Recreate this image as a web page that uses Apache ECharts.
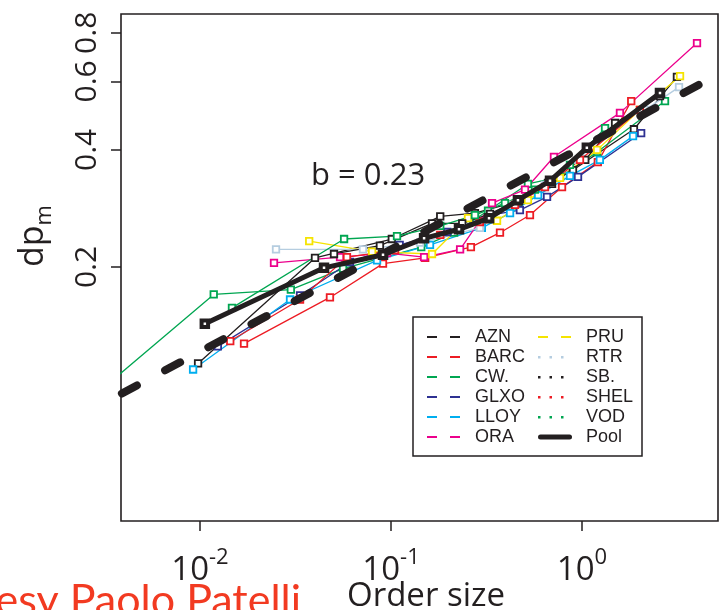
<!DOCTYPE html>
<html>
<head>
<meta charset="utf-8">
<script src="https://cdn.jsdelivr.net/npm/echarts@6/dist/echarts.min.js"></script>
<style>
  html, body { margin: 0; padding: 0; background: #fff; }
  #chart { width: 720px; height: 610px; }
</style>
</head>
<body>
<div id="chart"></div>
<script>
// Price impact dp_m versus normalised order size, per stock, with the pooled curve
// and the fitted power law.
const INK = '#231f20';

const AZN_x  = [0.00977, 0.0400, 0.101, 0.181, 0.275, 0.462, 0.664, 0.897, 1.87, 3.14];
const AZN_y  = [0.113, 0.211, 0.236, 0.270, 0.275, 0.295, 0.329, 0.355, 0.452, 0.616];
const BARC_x = [0.0170, 0.0479, 0.0908, 0.151, 0.262, 0.372, 0.534, 0.786, 1.21, 1.81];
const BARC_y = [0.127, 0.167, 0.204, 0.211, 0.225, 0.245, 0.272, 0.321, 0.372, 0.534];
const CW_x   = [0.00299, 0.0118, 0.0299, 0.0561, 0.144, 0.214, 0.322, 0.521, 0.767, 1.20, 2.72];
const CW_y   = [0.096, 0.170, 0.175, 0.198, 0.225, 0.245, 0.279, 0.327, 0.341, 0.395, 0.534];
const GLXO_x = [0.0124, 0.0334, 0.0610, 0.111, 0.197, 0.330, 0.473, 0.656, 0.953, 2.04];
const GLXO_y = [0.125, 0.169, 0.206, 0.228, 0.246, 0.272, 0.280, 0.303, 0.341, 0.442];
const LLOY_x = [0.0092, 0.0296, 0.0845, 0.160, 0.299, 0.420, 0.589, 0.865, 1.24, 1.85];
const LLOY_y = [0.109, 0.165, 0.208, 0.228, 0.252, 0.275, 0.306, 0.343, 0.377, 0.434];
const ORA_x  = [0.0244, 0.0541, 0.0953, 0.149, 0.230, 0.338, 0.503, 0.713, 1.58, 4.00];
const ORA_y  = [0.205, 0.212, 0.217, 0.212, 0.222, 0.292, 0.316, 0.384, 0.498, 0.753];
const PRU_x  = [0.0373, 0.0796, 0.164, 0.253, 0.359, 0.521, 0.767, 1.20, 2.01, 3.26];
const PRU_y  = [0.233, 0.219, 0.216, 0.267, 0.263, 0.297, 0.339, 0.400, 0.507, 0.619];
const RTR_x  = [0.0250, 0.0713, 0.142, 0.292, 0.420, 0.640, 0.953, 1.49, 2.14, 3.22];
const RTR_y  = [0.222, 0.222, 0.231, 0.252, 0.289, 0.325, 0.377, 0.469, 0.507, 0.580];
const SB_x   = [0.0503, 0.0875, 0.164, 0.236, 0.330, 0.473, 0.697, 1.04, 1.49, 2.56];
const SB_y   = [0.216, 0.227, 0.259, 0.259, 0.274, 0.299, 0.327, 0.377, 0.469, 0.550];
const SHEL_x = [0.0144, 0.0334, 0.0588, 0.105, 0.181, 0.292, 0.446, 0.640, 0.976, 2.01];
const SHEL_y = [0.129, 0.165, 0.212, 0.221, 0.242, 0.261, 0.289, 0.321, 0.377, 0.507];
const VOD_x  = [0.0147, 0.0568, 0.1075, 0.181, 0.275, 0.395, 0.567, 0.865, 1.32];
const VOD_y  = [0.157, 0.236, 0.240, 0.255, 0.272, 0.292, 0.316, 0.366, 0.455];

const POOL_x = [0.0106, 0.0446, 0.0908, 0.149, 0.227, 0.326, 0.462, 0.680, 1.06, 2.56];
const POOL_y = [0.143, 0.199, 0.215, 0.237, 0.250, 0.267, 0.297, 0.333, 0.405, 0.560];

// End points of the fitted power law dp_m ~ x^b
const FIT_x = [0.0039, 5.1];
const FIT_y = [0.0946, 0.623];
const FIT_LABEL = 'b = 0.23';

const X_TICKS = [0.01, 0.1, 1];
const Y_TICKS = [0.2, 0.4, 0.6, 0.8];

const stocks = [
  { name: 'AZN',  x: AZN_x,  y: AZN_y,  color: INK,       dash: 'dashed' },
  { name: 'BARC', x: BARC_x, y: BARC_y, color: '#ed1c24', dash: 'dashed' },
  { name: 'CW.',  x: CW_x,   y: CW_y,   color: '#00a651', dash: 'dashed' },
  { name: 'GLXO', x: GLXO_x, y: GLXO_y, color: '#2e3192', dash: 'dashed' },
  { name: 'LLOY', x: LLOY_x, y: LLOY_y, color: '#00aeef', dash: 'dashed' },
  { name: 'ORA',  x: ORA_x,  y: ORA_y,  color: '#ec008c', dash: 'dashed' },
  { name: 'PRU',  x: PRU_x,  y: PRU_y,  color: '#f5e400', dash: 'dashed' },
  { name: 'RTR',  x: RTR_x,  y: RTR_y,  color: '#b5cde0', dash: 'dotted' },
  { name: 'SB.',  x: SB_x,   y: SB_y,   color: INK,       dash: 'dotted' },
  { name: 'SHEL', x: SHEL_x, y: SHEL_y, color: '#ed1c24', dash: 'dotted' },
  { name: 'VOD',  x: VOD_x,  y: VOD_y,  color: '#00a651', dash: 'dotted' }
];

const pairs = (xs, ys) => xs.map((v, i) => [v, ys[i]]);

const series = stocks.map(s => ({
  type: 'line',
  name: s.name,
  data: pairs(s.x, s.y),
  symbol: 'rect',
  symbolSize: 6.5,
  lineStyle: { color: s.color, width: 1.3 },
  itemStyle: { color: '#fff', borderColor: s.color, borderWidth: 1.8 },
  z: 2
}));

series.push({
  type: 'line',
  name: 'fit',
  data: pairs(FIT_x, FIT_y),
  symbol: 'none',
  lineStyle: { color: INK, width: 8, type: [17, 32], cap: 'round' },
  z: 3
});

series.push({
  type: 'line',
  name: 'Pool',
  data: pairs(POOL_x, POOL_y),
  symbol: 'rect',
  symbolSize: 6.5,
  lineStyle: { color: INK, width: 5 },
  itemStyle: { color: '#fff', borderColor: INK, borderWidth: 4 },
  z: 4
});

// Legend keys: two short dashes, three dots, or a thick bar
const BOX = 'M0,0 M43,10 ';
const ICONS = {
  dashed: 'path://' + BOX + 'M0,4h10v2h-10z M23,4h10v2h-10z',
  dotted: 'path://' + BOX + 'M0,4h2.5v2.5h-2.5z M11.5,4h2.5v2.5h-2.5z M23,4h2.5v2.5h-2.5z',
  solid:  'path://' + BOX + 'M2.5,2.5h29a2.5,2.5 0 0 1 0,5h-29a2.5,2.5 0 0 1 0,-5z'
};

const legendItems = stocks.map(s => ({
  name: s.name,
  icon: ICONS[s.dash],
  itemStyle: { color: s.color, borderWidth: 0, borderColor: s.color }
}));
legendItems.push({
  name: 'Pool',
  icon: ICONS.solid,
  itemStyle: { color: INK, borderWidth: 0, borderColor: INK }
});

// two legend columns inside one framed box
const legendColumn = (items, left) => ({
  left: left,
  top: 328,
  orient: 'vertical',
  itemGap: 2,
  itemWidth: 43,
  itemHeight: 10,
  padding: 0,
  z: 10,
  selectedMode: false,
  textStyle: { fontFamily: 'Liberation Sans', fontSize: 18, color: INK },
  data: items
});

const chart = echarts.init(document.getElementById('chart'), null, { renderer: 'canvas' });

chart.setOption({
  animation: false,
  backgroundColor: '#fff',
  grid: {
    left: 121, top: 14, width: 597, height: 507,
    outerBoundsMode: 'none',
    containLabel: false,
    show: true, borderColor: INK, borderWidth: 1.6, backgroundColor: 'transparent'
  },
  xAxis: {
    type: 'log',
    logBase: 10,
    min: 0.003858,
    max: 5.152,
    axisLine: { show: false },
    splitLine: { show: false },
    minorTick: { show: false },
    axisTick: { show: true, customValues: X_TICKS, length: 10, lineStyle: { color: INK, width: 1.5 } },
    axisLabel: {
      customValues: X_TICKS,
      margin: 26,
      formatter: v => '{b|10}{s|' + Math.round(Math.log10(v)) + '}',
      rich: {
        b: { fontFamily: 'Open Sans', fontSize: 33, color: INK, lineHeight: 40, verticalAlign: 'bottom' },
        s: { fontFamily: 'Open Sans', fontSize: 22, color: INK, lineHeight: 15, verticalAlign: 'top' }
      }
    },
    name: 'Order size',
    nameLocation: 'middle',
    nameGap: 59,
    nameMoveOverlap: false,
    nameTextStyle: { fontFamily: 'Open Sans', fontSize: 33, color: INK, padding: [0, 0, 0, 13] }
  },
  yAxis: {
    type: 'log',
    logBase: 10,
    min: 0.04446,
    max: 0.8942,
    axisLine: { show: false },
    splitLine: { show: false },
    minorTick: { show: false },
    axisTick: { show: true, customValues: Y_TICKS, length: 10, lineStyle: { color: INK, width: 1.5 } },
    axisLabel: {
      customValues: Y_TICKS,
      rotate: 90,
      margin: 19,
      fontFamily: 'Open Sans',
      fontSize: 30,
      color: INK,
      formatter: v => v.toFixed(1)
    },
    name: '{a|dp}{m|m}',
    nameLocation: 'middle',
    nameRotate: 90,
    nameGap: 65,
    nameMoveOverlap: false,
    nameTextStyle: {
      padding: [0, 0, 0, 63],
      rich: {
        a: { fontFamily: 'Open Sans', fontSize: 34, color: INK, lineHeight: 40, verticalAlign: 'top' },
        m: { fontFamily: 'Open Sans', fontSize: 22, color: INK, lineHeight: 19, verticalAlign: 'bottom' }
      }
    }
  },
  legend: [
    legendColumn(legendItems.slice(0, 6), 427),
    legendColumn(legendItems.slice(6), 538)
  ],
  graphic: [
    {
      type: 'rect',
      z: 8,
      silent: true,
      shape: { x: 413, y: 317, width: 229, height: 139 },
      style: { fill: '#fff', stroke: INK, lineWidth: 1.5 }
    },
    {
      type: 'text',
      x: 311, y: 161,
      silent: true,
      style: { text: FIT_LABEL, fill: INK, font: '31px "Open Sans"', align: 'left', verticalAlign: 'top' }
    },
    {
      type: 'text',
      x: 301, y: 580,
      silent: true,
      style: { text: 'Courtesy Paolo Patelli', fill: '#f23a21', font: '43px Lato', align: 'right', verticalAlign: 'top' }
    }
  ],
  series: series
});
</script>
</body>
</html>
